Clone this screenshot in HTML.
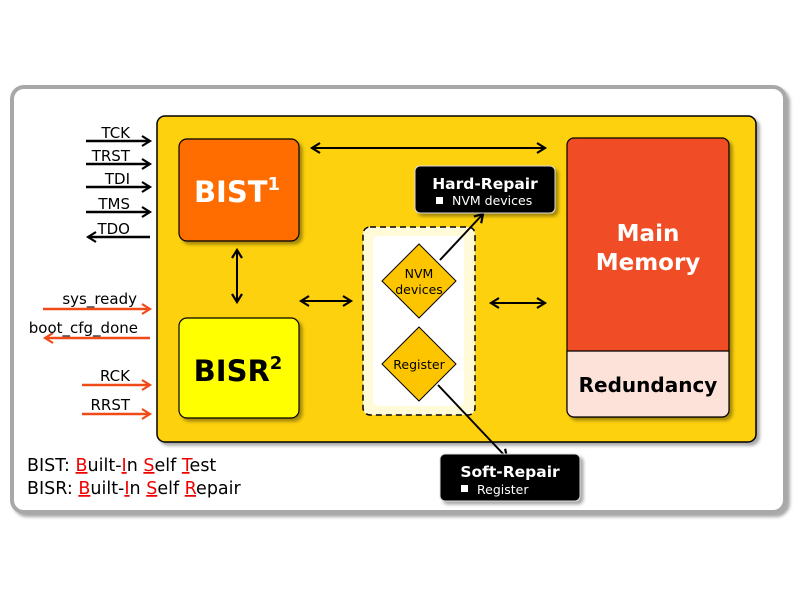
<!DOCTYPE html>
<html><head><style>
body{margin:0;width:800px;height:600px;background:#fff;overflow:hidden}
</style></head><body>
<svg width="800" height="600" xmlns="http://www.w3.org/2000/svg" font-family="'DejaVu Sans', sans-serif">
<defs>
<marker id="a" markerWidth="12" markerHeight="12" refX="9" refY="6" orient="auto-start-reverse" markerUnits="userSpaceOnUse"><path d="M1,1 L9,6 L1,11" fill="none" stroke="#000" stroke-width="2.2"/></marker>
<marker id="o" markerWidth="12" markerHeight="12" refX="9" refY="6" orient="auto-start-reverse" markerUnits="userSpaceOnUse"><path d="M1,1 L9,6 L1,11" fill="none" stroke="#f04a18" stroke-width="2.2"/></marker>
<filter id="s" x="-10%" y="-10%" width="130%" height="130%"><feDropShadow dx="3" dy="3" stdDeviation="1.5" flood-color="#000" flood-opacity="0.35"/></filter>
</defs>
<rect x="12" y="87" width="773" height="425" rx="12" fill="#fff" stroke="#a8a8a8" stroke-width="4" filter="url(#s)"/>
<rect x="157" y="116" width="599" height="326" rx="8" fill="#fdd108" stroke="#000" stroke-width="1.5" filter="url(#s)"/>
<rect x="179" y="139" width="120" height="102" rx="8" fill="#ff6d00" stroke="#000" stroke-width="1.2" filter="url(#s)"/>
<text x="237" y="202" font-size="29" font-weight="bold" fill="#fff" text-anchor="middle">BIST<tspan font-size="18" dy="-12">1</tspan></text>
<rect x="179" y="318" width="120" height="100" rx="8" fill="#ffff00" stroke="#000" stroke-width="1.2" filter="url(#s)"/>
<text x="238" y="381" font-size="29" font-weight="bold" fill="#000" text-anchor="middle">BISR<tspan font-size="18" dy="-12">2</tspan></text>
<rect x="363" y="227" width="112" height="188" rx="7" fill="#fffbd8" stroke="#000" stroke-width="1.5" stroke-dasharray="6,4"/>
<rect x="373" y="236" width="91" height="170" rx="5" fill="#fff"/>
<rect x="567" y="138" width="162" height="279" rx="7" fill="#f04e28" stroke="#000" stroke-width="1.2" filter="url(#s)"/>
<path d="M567,351 H729 V410 a7,7 0 0 1 -7,7 H574 a7,7 0 0 1 -7,-7 Z" fill="#fde2da" stroke="#000" stroke-width="1.2"/>
<text x="648" y="241" font-size="23" font-weight="bold" fill="#fff" text-anchor="middle">Main</text>
<text x="648" y="270" font-size="23" font-weight="bold" fill="#fff" text-anchor="middle">Memory</text>
<text x="648" y="392" font-size="20" font-weight="bold" fill="#000" text-anchor="middle">Redundancy</text>
<g stroke="#000" stroke-width="2" fill="none">
<line x1="312" y1="148" x2="545" y2="148" marker-start="url(#a)" marker-end="url(#a)"/>
<line x1="491" y1="303" x2="545" y2="303" marker-start="url(#a)" marker-end="url(#a)"/>
<line x1="301" y1="301" x2="351" y2="301" marker-start="url(#a)" marker-end="url(#a)"/>
<line x1="237" y1="250" x2="237" y2="302" marker-start="url(#a)" marker-end="url(#a)"/>
<line x1="440" y1="260" x2="483" y2="214" marker-end="url(#a)"/>
<line x1="438" y1="385" x2="507" y2="458" marker-end="url(#a)"/>
</g>
<path d="M419,244 L456,281 L419,318 L382,281 Z" fill="#fdc500" stroke="#000" stroke-width="1"/>
<path d="M419,327 L456,364 L419,401 L382,364 Z" fill="#fdc500" stroke="#000" stroke-width="1"/>
<text x="419" y="278" font-size="12.5" text-anchor="middle">NVM</text>
<text x="419" y="294" font-size="12.5" text-anchor="middle">devices</text>
<text x="419" y="369" font-size="12.5" text-anchor="middle">Register</text>
<rect x="415" y="166" width="140" height="47" rx="5" fill="#000" stroke="#ddd" stroke-width="1" filter="url(#s)"/>
<text x="485" y="189" font-size="15.5" font-weight="bold" fill="#fff" text-anchor="middle">Hard-Repair</text>
<rect x="436" y="197" width="7" height="7" fill="#fff"/>
<text x="452" y="205" font-size="12.5" fill="#fff">NVM devices</text>
<rect x="440" y="454" width="140" height="47" rx="5" fill="#000" stroke="#ddd" stroke-width="1" filter="url(#s)"/>
<text x="510" y="477" font-size="15.5" font-weight="bold" fill="#fff" text-anchor="middle">Soft-Repair</text>
<rect x="461" y="485" width="7" height="7" fill="#fff"/>
<text x="477" y="494" font-size="12.5" fill="#fff">Register</text>
<g stroke="#000" stroke-width="2.5" fill="none">
<line x1="86" y1="141" x2="150" y2="141" marker-end="url(#a)"/>
<line x1="86" y1="164" x2="150" y2="164" marker-end="url(#a)"/>
<line x1="86" y1="187" x2="150" y2="187" marker-end="url(#a)"/>
<line x1="86" y1="212" x2="150" y2="212" marker-end="url(#a)"/>
<line x1="150" y1="237" x2="88" y2="237" marker-end="url(#a)"/>
</g>
<g stroke="#f04a18" stroke-width="2.5" fill="none">
<line x1="43" y1="309" x2="150" y2="309" marker-end="url(#o)"/>
<line x1="150" y1="338" x2="45" y2="338" marker-end="url(#o)"/>
<line x1="82" y1="385" x2="150" y2="385" marker-end="url(#o)"/>
<line x1="82" y1="414" x2="150" y2="414" marker-end="url(#o)"/>
</g>
<g font-size="15" text-anchor="end" fill="#000">
<text x="130" y="138">TCK</text>
<text x="130" y="161">TRST</text>
<text x="130" y="184">TDI</text>
<text x="130" y="209">TMS</text>
<text x="130" y="234">TDO</text>
<text x="137" y="304">sys_ready</text>
<text x="138" y="333">boot_cfg_done</text>
<text x="130" y="381">RCK</text>
<text x="130" y="410">RRST</text>
</g>
<g font-size="17.5" fill="#000">
<text x="27" y="471">BIST: <tspan fill="#e00" text-decoration="underline">B</tspan>uilt-<tspan fill="#e00" text-decoration="underline">I</tspan>n <tspan fill="#e00" text-decoration="underline">S</tspan>elf <tspan fill="#e00" text-decoration="underline">T</tspan>est</text>
<text x="27" y="494">BISR: <tspan fill="#e00" text-decoration="underline">B</tspan>uilt-<tspan fill="#e00" text-decoration="underline">I</tspan>n <tspan fill="#e00" text-decoration="underline">S</tspan>elf <tspan fill="#e00" text-decoration="underline">R</tspan>epair</text>
</g>
</svg>
</body></html>
